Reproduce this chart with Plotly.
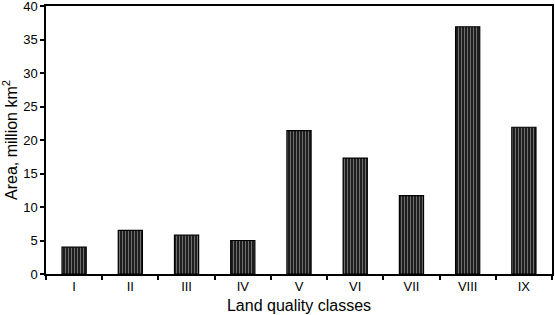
import plotly.graph_objects as go

classes = ["I", "II", "III", "IV", "V", "VI", "VII", "VIII", "IX"]
area = [4.0, 6.5, 5.8, 5.0, 21.4, 17.3, 11.7, 36.9, 21.9]
y_ticks = [0, 5, 10, 15, 20, 25, 30, 35, 40]

fig = go.Figure(go.Bar(
    x=classes, y=area, width=0.43,
    marker=dict(
        color="#222222",
        line=dict(color="#000000", width=1.2),
        pattern=dict(shape="|", fgcolor="#6e6e6e", bgcolor="#1e1e1e", size=3, solidity=0.35, fillmode="replace"),
    ),
))

font = dict(family="Liberation Sans, Arial, sans-serif", size=13, color="#000000")
fig.update_layout(
    width=555, height=315,
    margin=dict(l=46, r=3, t=6, b=41, autoexpand=False),
    paper_bgcolor="white", plot_bgcolor="white",
    font=font, showlegend=False,
)
fig.update_xaxes(
    type="category", tickson="boundaries", ticks="outside", ticklen=4, tickwidth=1.5,
    tickcolor="#000", showline=True, linecolor="#000", linewidth=1.5, mirror=True,
    showgrid=False, automargin=False,
    title=dict(text="Land quality classes", standoff=6), tickfont=font,
)
fig.update_yaxes(
    range=[0, 40], tickvals=y_ticks, ticks="outside", ticklen=4, tickwidth=1.5,
    tickcolor="#000", showline=True, linecolor="#000", linewidth=1.5, mirror=True,
    showgrid=False, zeroline=False, automargin=False, ticklabeloverflow="allow",
    title=dict(text="Area, million km<sup>2</sup>", standoff=6), tickfont=font,
)

fig.write_html("out.html", config={"displayModeBar": False},
               post_script="document.body.style.margin='0';")
